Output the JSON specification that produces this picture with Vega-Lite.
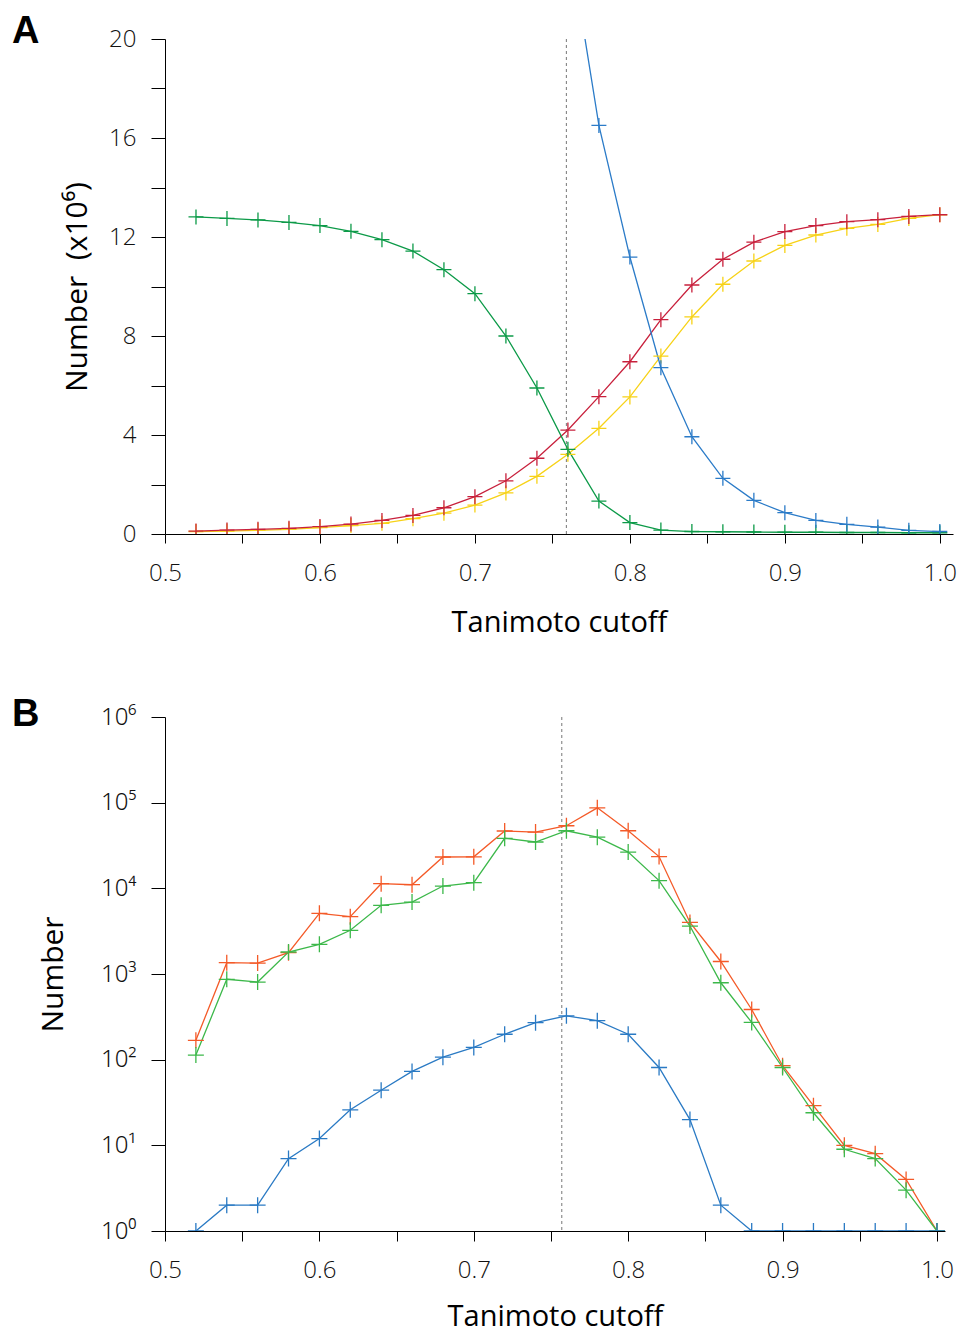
{
  "$schema": "https://vega.github.io/schema/vega-lite/v6.json",
  "padding": {"left": 12, "top": 13, "right": 5, "bottom": 0},
  "background": "white",
  "spacing": 59,
  "resolve": {"scale": {"color": "independent"}},
  "config": {
    "view": {"stroke": null},
    "font": "Open Sans",
    "axis": {
      "domainColor": "#000000",
      "domainWidth": 1,
      "tickColor": "#000000",
      "tickWidth": 1,
      "grid": false,
      "labelFont": "Open Sans",
      "labelFontWeight": 300,
      "labelFontSize": 24,
      "labelColor": "#111111",
      "labelFlush": false,
      "labelOverlap": false,
      "labelBound": false,
      "titleFont": "Open Sans",
      "titleFontWeight": 400,
      "titleFontSize": 30,
      "titleColor": "#000000"
    },
    "title": {"font": "Liberation Sans", "fontWeight": "bold", "fontSize": 38, "color": "#000000", "anchor": "start", "frame": "group", "baseline": "alphabetic", "offset": 0}
  },
  "datasets": {
    "a": [
      {"x": 0.52, "s": "yellow", "v": 0.10}, {"x": 0.54, "s": "yellow", "v": 0.12}, {"x": 0.56, "s": "yellow", "v": 0.15}, {"x": 0.58, "s": "yellow", "v": 0.19},
      {"x": 0.60, "s": "yellow", "v": 0.26}, {"x": 0.62, "s": "yellow", "v": 0.34}, {"x": 0.64, "s": "yellow", "v": 0.43}, {"x": 0.66, "s": "yellow", "v": 0.62},
      {"x": 0.68, "s": "yellow", "v": 0.84}, {"x": 0.70, "s": "yellow", "v": 1.17}, {"x": 0.72, "s": "yellow", "v": 1.66}, {"x": 0.74, "s": "yellow", "v": 2.33},
      {"x": 0.76, "s": "yellow", "v": 3.22}, {"x": 0.78, "s": "yellow", "v": 4.27}, {"x": 0.80, "s": "yellow", "v": 5.54}, {"x": 0.82, "s": "yellow", "v": 7.19},
      {"x": 0.84, "s": "yellow", "v": 8.77}, {"x": 0.86, "s": "yellow", "v": 10.09}, {"x": 0.88, "s": "yellow", "v": 11.03}, {"x": 0.90, "s": "yellow", "v": 11.66},
      {"x": 0.92, "s": "yellow", "v": 12.08}, {"x": 0.94, "s": "yellow", "v": 12.35}, {"x": 0.96, "s": "yellow", "v": 12.51}, {"x": 0.98, "s": "yellow", "v": 12.75},
      {"x": 1.00, "s": "yellow", "v": 12.9},
      {"x": 0.52, "s": "red", "v": 0.12}, {"x": 0.54, "s": "red", "v": 0.16}, {"x": 0.56, "s": "red", "v": 0.19}, {"x": 0.58, "s": "red", "v": 0.23},
      {"x": 0.60, "s": "red", "v": 0.30}, {"x": 0.62, "s": "red", "v": 0.40}, {"x": 0.64, "s": "red", "v": 0.55}, {"x": 0.66, "s": "red", "v": 0.75},
      {"x": 0.68, "s": "red", "v": 1.06}, {"x": 0.70, "s": "red", "v": 1.51}, {"x": 0.72, "s": "red", "v": 2.15}, {"x": 0.74, "s": "red", "v": 3.06},
      {"x": 0.76, "s": "red", "v": 4.2}, {"x": 0.78, "s": "red", "v": 5.55}, {"x": 0.80, "s": "red", "v": 6.96}, {"x": 0.82, "s": "red", "v": 8.66},
      {"x": 0.84, "s": "red", "v": 10.06}, {"x": 0.86, "s": "red", "v": 11.1}, {"x": 0.88, "s": "red", "v": 11.79}, {"x": 0.90, "s": "red", "v": 12.22},
      {"x": 0.92, "s": "red", "v": 12.46}, {"x": 0.94, "s": "red", "v": 12.62}, {"x": 0.96, "s": "red", "v": 12.7}, {"x": 0.98, "s": "red", "v": 12.83},
      {"x": 1.00, "s": "red", "v": 12.9},
      {"x": 0.52, "s": "green", "v": 12.81}, {"x": 0.54, "s": "green", "v": 12.75}, {"x": 0.56, "s": "green", "v": 12.69}, {"x": 0.58, "s": "green", "v": 12.59},
      {"x": 0.60, "s": "green", "v": 12.46}, {"x": 0.62, "s": "green", "v": 12.23}, {"x": 0.64, "s": "green", "v": 11.89}, {"x": 0.66, "s": "green", "v": 11.43},
      {"x": 0.68, "s": "green", "v": 10.68}, {"x": 0.70, "s": "green", "v": 9.71}, {"x": 0.72, "s": "green", "v": 8.0}, {"x": 0.74, "s": "green", "v": 5.9},
      {"x": 0.76, "s": "green", "v": 3.42}, {"x": 0.78, "s": "green", "v": 1.33}, {"x": 0.80, "s": "green", "v": 0.46}, {"x": 0.82, "s": "green", "v": 0.16},
      {"x": 0.84, "s": "green", "v": 0.10}, {"x": 0.86, "s": "green", "v": 0.09}, {"x": 0.88, "s": "green", "v": 0.08}, {"x": 0.90, "s": "green", "v": 0.07},
      {"x": 0.92, "s": "green", "v": 0.07}, {"x": 0.94, "s": "green", "v": 0.06}, {"x": 0.96, "s": "green", "v": 0.06}, {"x": 0.98, "s": "green", "v": 0.05},
      {"x": 1.00, "s": "green", "v": 0.05},
      {"x": 0.76, "s": "blue", "v": 24.3}, {"x": 0.78, "s": "blue", "v": 16.51}, {"x": 0.80, "s": "blue", "v": 11.19}, {"x": 0.82, "s": "blue", "v": 6.72},
      {"x": 0.84, "s": "blue", "v": 3.93}, {"x": 0.86, "s": "blue", "v": 2.25}, {"x": 0.88, "s": "blue", "v": 1.36}, {"x": 0.90, "s": "blue", "v": 0.86},
      {"x": 0.92, "s": "blue", "v": 0.55}, {"x": 0.94, "s": "blue", "v": 0.39}, {"x": 0.96, "s": "blue", "v": 0.28}, {"x": 0.98, "s": "blue", "v": 0.15},
      {"x": 1.00, "s": "blue", "v": 0.1}
    ],
    "b": [
      {"x": 0.52, "s": "orange", "v": 168}, {"x": 0.54, "s": "orange", "v": 1355}, {"x": 0.56, "s": "orange", "v": 1340}, {"x": 0.58, "s": "orange", "v": 1774},
      {"x": 0.60, "s": "orange", "v": 5107}, {"x": 0.62, "s": "orange", "v": 4667}, {"x": 0.64, "s": "orange", "v": 11330}, {"x": 0.66, "s": "orange", "v": 11020},
      {"x": 0.68, "s": "orange", "v": 23200}, {"x": 0.70, "s": "orange", "v": 23300}, {"x": 0.72, "s": "orange", "v": 46700}, {"x": 0.74, "s": "orange", "v": 45400},
      {"x": 0.76, "s": "orange", "v": 53800}, {"x": 0.78, "s": "orange", "v": 87000}, {"x": 0.80, "s": "orange", "v": 47000}, {"x": 0.82, "s": "orange", "v": 23500},
      {"x": 0.84, "s": "orange", "v": 4000}, {"x": 0.86, "s": "orange", "v": 1400}, {"x": 0.88, "s": "orange", "v": 385}, {"x": 0.90, "s": "orange", "v": 85},
      {"x": 0.92, "s": "orange", "v": 29}, {"x": 0.94, "s": "orange", "v": 10}, {"x": 0.96, "s": "orange", "v": 8}, {"x": 0.98, "s": "orange", "v": 4},
      {"x": 1.00, "s": "orange", "v": 1},
      {"x": 0.52, "s": "green", "v": 113}, {"x": 0.54, "s": "green", "v": 867}, {"x": 0.56, "s": "green", "v": 805}, {"x": 0.58, "s": "green", "v": 1806},
      {"x": 0.60, "s": "green", "v": 2220}, {"x": 0.62, "s": "green", "v": 3237}, {"x": 0.64, "s": "green", "v": 6340}, {"x": 0.66, "s": "green", "v": 6920},
      {"x": 0.68, "s": "green", "v": 10640}, {"x": 0.70, "s": "green", "v": 11640}, {"x": 0.72, "s": "green", "v": 38400}, {"x": 0.74, "s": "green", "v": 34750},
      {"x": 0.76, "s": "green", "v": 47000}, {"x": 0.78, "s": "green", "v": 39500}, {"x": 0.80, "s": "green", "v": 26500}, {"x": 0.82, "s": "green", "v": 12300},
      {"x": 0.84, "s": "green", "v": 3630}, {"x": 0.86, "s": "green", "v": 790}, {"x": 0.88, "s": "green", "v": 272}, {"x": 0.90, "s": "green", "v": 81},
      {"x": 0.92, "s": "green", "v": 24}, {"x": 0.94, "s": "green", "v": 9}, {"x": 0.96, "s": "green", "v": 7}, {"x": 0.98, "s": "green", "v": 3},
      {"x": 1.00, "s": "green", "v": 1},
      {"x": 0.52, "s": "blue", "v": 1}, {"x": 0.54, "s": "blue", "v": 2}, {"x": 0.56, "s": "blue", "v": 2}, {"x": 0.58, "s": "blue", "v": 7},
      {"x": 0.60, "s": "blue", "v": 12}, {"x": 0.62, "s": "blue", "v": 26}, {"x": 0.64, "s": "blue", "v": 44}, {"x": 0.66, "s": "blue", "v": 73},
      {"x": 0.68, "s": "blue", "v": 107}, {"x": 0.70, "s": "blue", "v": 139}, {"x": 0.72, "s": "blue", "v": 198}, {"x": 0.74, "s": "blue", "v": 270},
      {"x": 0.76, "s": "blue", "v": 325}, {"x": 0.78, "s": "blue", "v": 285}, {"x": 0.80, "s": "blue", "v": 198}, {"x": 0.82, "s": "blue", "v": 81},
      {"x": 0.84, "s": "blue", "v": 20}, {"x": 0.86, "s": "blue", "v": 2}, {"x": 0.88, "s": "blue", "v": 1}, {"x": 0.90, "s": "blue", "v": 1},
      {"x": 0.92, "s": "blue", "v": 1}, {"x": 0.94, "s": "blue", "v": 1}, {"x": 0.96, "s": "blue", "v": 1}, {"x": 0.98, "s": "blue", "v": 1},
      {"x": 1.00, "s": "blue", "v": 1}
    ],
    "ra": [{"x": 0.759}],
    "rb": [{"x": 0.757}]
  },
  "vconcat": [
    {
      "title": {"text": "A", "dx": -153, "dy": 28},
      "width": 788,
      "height": 495,
      "layer": [
        {
          "data": {"name": "ra"},
          "mark": {"type": "rule", "color": "#777777", "strokeWidth": 1, "strokeDash": [3, 3]},
          "encoding": {"x": {"field": "x", "type": "quantitative", "scale": {"domain": [0.5, 1.0085], "nice": false, "zero": false}}}
        },
        {
          "data": {"name": "a"},
          "mark": {"type": "line", "strokeWidth": 1.3, "clip": true},
          "encoding": {
            "x": {"field": "x", "type": "quantitative",
                  "scale": {"domain": [0.5, 1.0085], "nice": false, "zero": false},
                  "axis": {"values": [0.5, 0.55, 0.6, 0.65, 0.7, 0.75, 0.8, 0.85, 0.9, 0.95, 1.0],
                           "labelExpr": "round(datum.value*100) % 10 == 0 ? format(datum.value, '.1f') : ''",
                           "tickSize": 9, "labelPadding": 18, "title": "Tanimoto cutoff", "titleFontSize": 29, "titlePadding": 23}},
            "y": {"field": "v", "type": "quantitative",
                  "scale": {"domain": [0, 20], "nice": false},
                  "axis": {"values": [0, 2, 4, 6, 8, 10, 12, 14, 16, 18, 20],
                           "labelExpr": "datum.value % 4 == 0 ? datum.label : ''",
                           "tickSize": 14, "labelPadding": 15, "title": "Number\u00a0 (x10⁶)", "titlePadding": 16}},
            "color": {"field": "s", "type": "nominal", "legend": null,
                      "scale": {"domain": ["yellow", "red", "green", "blue"], "range": ["#f7d217", "#c8203c", "#0c9a48", "#2b7bc8"]}}
          }
        },
        {
          "data": {"name": "a"},
          "mark": {"type": "point", "shape": "M-1,0H1M0,-1V1", "filled": false, "size": 225, "strokeWidth": 1.3, "opacity": 1, "clip": true},
          "encoding": {
            "x": {"field": "x", "type": "quantitative"},
            "y": {"field": "v", "type": "quantitative"},
            "color": {"field": "s", "type": "nominal", "legend": null}
          }
        }
      ]
    },
    {
      "title": {"text": "B", "dx": -153, "dy": 33},
      "width": 780,
      "height": 514,
      "layer": [
        {
          "data": {"name": "rb"},
          "mark": {"type": "rule", "color": "#777777", "strokeWidth": 1, "strokeDash": [3, 3]},
          "encoding": {"x": {"field": "x", "type": "quantitative", "scale": {"domain": [0.5, 1.0052], "nice": false, "zero": false}}}
        },
        {
          "data": {"name": "b"},
          "mark": {"type": "line", "strokeWidth": 1.3, "clip": true},
          "encoding": {
            "x": {"field": "x", "type": "quantitative",
                  "scale": {"domain": [0.5, 1.0052], "nice": false, "zero": false},
                  "axis": {"values": [0.5, 0.55, 0.6, 0.65, 0.7, 0.75, 0.8, 0.85, 0.9, 0.95, 1.0],
                           "labelExpr": "round(datum.value*100) % 10 == 0 ? format(datum.value, '.1f') : ''",
                           "tickSize": 10, "labelPadding": 17, "title": "Tanimoto cutoff", "titleFontSize": 29, "titlePadding": 20}},
            "y": {"field": "v", "type": "quantitative",
                  "scale": {"type": "log", "domain": [1, 1000000], "nice": false},
                  "axis": {"values": [1, 10, 100, 1000, 10000, 100000, 1000000],
                           "labelExpr": "'10' + ['⁰','¹','²','³','⁴','⁵','⁶'][round(log(datum.value)/LN10)]",
                           "labelFont": "Noto Sans",
                           "tickSize": 14, "labelPadding": 15, "title": "Number", "titlePadding": 32}},
            "color": {"field": "s", "type": "nominal", "legend": null,
                      "scale": {"domain": ["orange", "green", "blue"], "range": ["#f45a28", "#3cb84a", "#2a7ac4"]}}
          }
        },
        {
          "data": {"name": "b"},
          "mark": {"type": "point", "shape": "M-1,0H1M0,-1V1", "filled": false, "size": 256, "strokeWidth": 1.3, "opacity": 1, "clip": true},
          "encoding": {
            "x": {"field": "x", "type": "quantitative"},
            "y": {"field": "v", "type": "quantitative"},
            "color": {"field": "s", "type": "nominal", "legend": null}
          }
        }
      ]
    }
  ]
}
